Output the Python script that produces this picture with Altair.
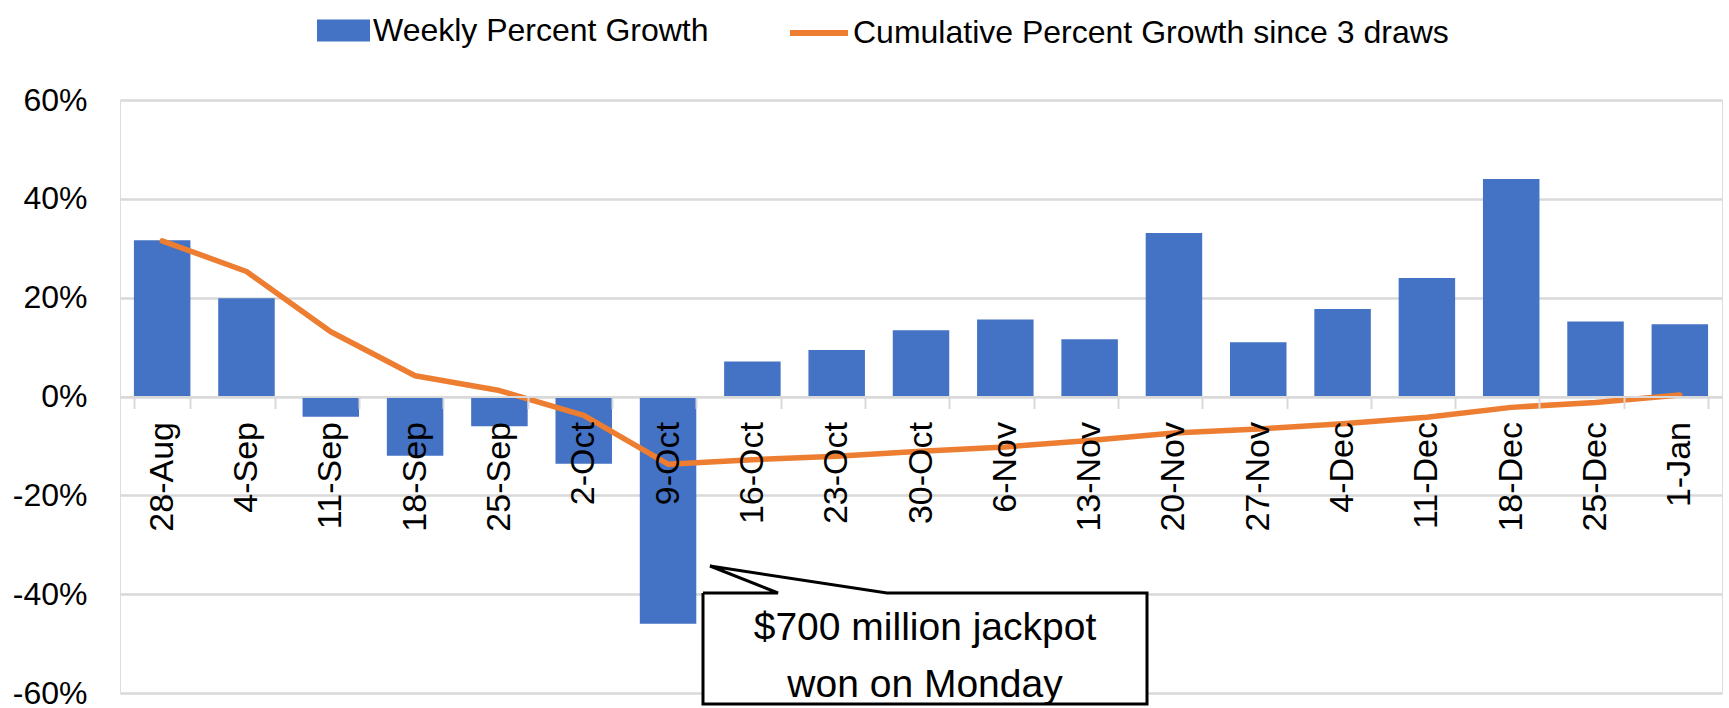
import altair as alt
import pandas as pd

# ---- data ----
weeks = ["28-Aug", "4-Sep", "11-Sep", "18-Sep", "25-Sep", "2-Oct", "9-Oct",
         "16-Oct", "23-Oct", "30-Oct", "6-Nov", "13-Nov", "20-Nov", "27-Nov",
         "4-Dec", "11-Dec", "18-Dec", "25-Dec", "1-Jan"]
weekly_growth = [31.6, 19.9, -4.1, -12.0, -6.0, -13.6, -46.0,
                 7.1, 9.4, 13.4, 15.6, 11.6, 33.1, 11.0,
                 17.7, 24.0, 44.0, 15.2, 14.6]
cumulative_growth = [31.5, 25.3, 13.1, 4.2, 1.2, -3.8, -13.7,
                     -12.8, -12.1, -11.1, -10.2, -8.9, -7.4, -6.6,
                     -5.5, -4.2, -2.2, -1.2, 0.3]
y_ticks = [-60, -40, -20, 0, 20, 40, 60]
bar_name = "Weekly Percent Growth"
line_name = "Cumulative Percent Growth since 3 draws"
callout_text = "$700 million jackpot\nwon on Monday"

# callout outline (annotation, plot-relative pixels)
callout_px = [583, 658, 590, 767, 1027, 1027, 583, 583]
callout_py = [493, 493, 466, 493, 493, 604, 604, 493]

FONT = "Liberation Sans, Arial"
BLUE = "#4472C4"
ORANGE = "#ED7D31"
GRID = "#D9D9D9"

df = pd.DataFrame({
    "week": weeks,
    "weekly": weekly_growth,
    "cumulative": cumulative_growth,
    "s1": [bar_name] * len(weeks),
    "s2": [line_name] * len(weeks),
})

x_enc = alt.X(
    "week:N", sort=weeks, title=None,
    scale=alt.Scale(paddingInner=0.33, paddingOuter=0.165),
    axis=alt.Axis(
        orient="bottom", offset=-296.5, labelAngle=270, labelAlign="right",
        labelBaseline="middle", labelFont=FONT, labelFontSize=34,
        labelColor="#000000", labelPadding=13, tickSize=12, tickColor=GRID,
        tickWidth=2, domainColor=GRID, domainWidth=2, tickBand="extent",
        grid=False, zindex=1, labelOverlap=False,
    ),
)
y_scale = alt.Scale(domain=[-60, 60], nice=False)
y_axis = alt.Axis(
    values=y_ticks, labelExpr="datum.value + '%'", domain=False, ticks=False,
    labelPadding=33, labelFont=FONT, labelFontSize=32, labelColor="#000000",
    gridColor=GRID, gridWidth=2.5,
)

bars = alt.Chart(df).mark_bar().encode(
    x=x_enc,
    y=alt.Y("weekly:Q", scale=y_scale, axis=y_axis, title=None),
    fill=alt.Fill(
        "s1:N", scale=alt.Scale(domain=[bar_name], range=[BLUE]),
        legend=alt.Legend(
            orient="none", legendX=197, legendY=-96, padding=0, title=None,
            symbolType="M-1,-0.415H1V0.415H-1Z", symbolSize=2809,
            symbolStrokeWidth=0, labelFont=FONT, labelFontSize=32,
            labelColor="#000000", labelOffset=3, labelLimit=900,
        ),
    ),
)

line = alt.Chart(df).mark_line(strokeWidth=5.5, strokeCap="round", strokeJoin="round").encode(
    x=alt.X("week:N", sort=weeks),
    y=alt.Y("cumulative:Q", scale=y_scale),
    stroke=alt.Stroke(
        "s2:N", scale=alt.Scale(domain=[line_name], range=[ORANGE]),
        legend=alt.Legend(
            orient="none", legendX=667, legendY=-99, padding=0, title=None,
            symbolType="stroke", symbolSize=3364, symbolStrokeWidth=6,
            labelFont=FONT, labelFontSize=32, labelColor="#000000",
            labelOffset=2, labelLimit=900,
        ),
    ),
)

main = alt.layer(bars, line)

cdf = pd.DataFrame({"px": callout_px, "py": callout_py, "i": list(range(len(callout_px)))})
outline = alt.Chart(cdf).mark_line(
    fill="white", stroke="black", strokeWidth=3, strokeJoin="miter"
).encode(
    x=alt.X("px:Q", scale=None, axis=None),
    y=alt.Y("py:Q", scale=None, axis=None),
    order=alt.Order("i:Q"),
)

tdf = pd.DataFrame({"tx": [(callout_px[0] + callout_px[4]) / 2], "ty": [540], "label": [callout_text]})
text = alt.Chart(tdf).mark_text(
    font=FONT, fontSize=39, align="center", baseline="alphabetic",
    lineHeight=57, lineBreak="\n", color="#000000",
).encode(
    x=alt.X("tx:Q", scale=None, axis=None),
    y=alt.Y("ty:Q", scale=None, axis=None),
    text="label:N",
)

annot = alt.layer(outline, text)

chart = alt.layer(main, annot).resolve_scale(x="independent", y="independent").properties(
    width=1602, height=593,
    autosize=alt.AutoSizeParams(type="none"),
    padding={"left": 120, "top": 100, "right": 7, "bottom": 15},
).configure_view(strokeWidth=0).configure(background="white")

chart.save("out.html", embed_options={"renderer": "svg", "actions": False})
